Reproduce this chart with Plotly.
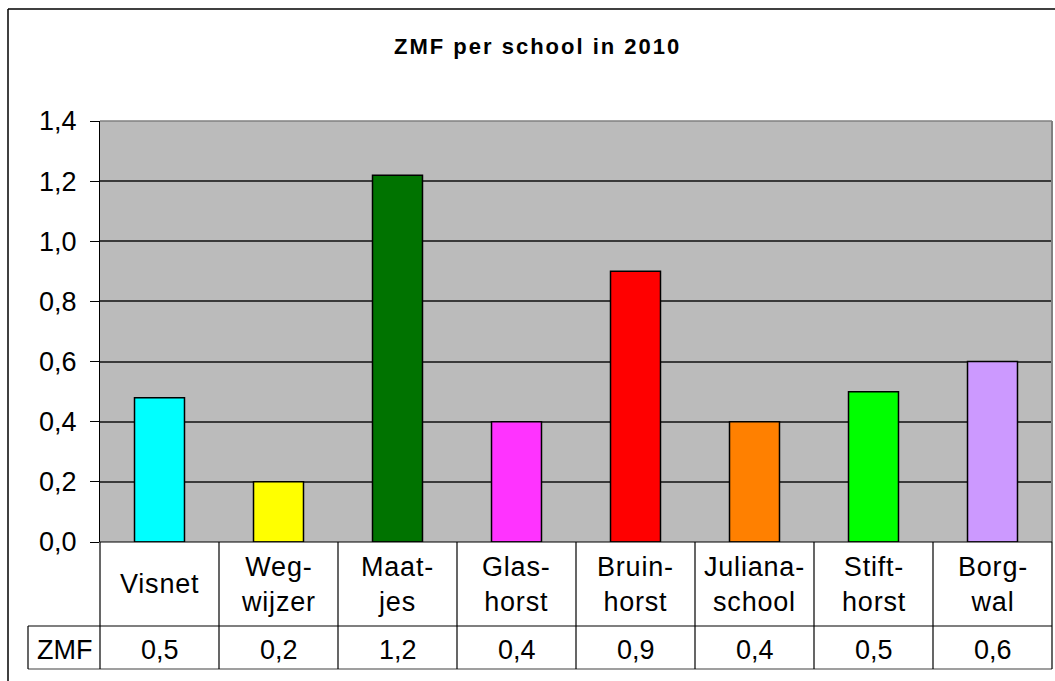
import plotly.graph_objects as go

# ---- data ----
schools = ["Visnet", "Weg-<br>wijzer", "Maat-<br>jes", "Glas-<br>horst", "Bruin-<br>horst",
           "Juliana-<br>school", "Stift-<br>horst", "Borg-<br>wal"]
zmf = [0.48, 0.20, 1.22, 0.40, 0.90, 0.40, 0.50, 0.60]
colors = ["#00FFFF", "#FFFF00", "#007300", "#FF33FF", "#FF0000", "#FF8000", "#00FF00", "#CC99FF"]
series_name = "ZMF"
title_text = "ZMF per school in 2010"
y_ticks = [0.0, 0.2, 0.4, 0.6, 0.8, 1.0, 1.2, 1.4]

W, H = 1055, 681
L, R, T, B = 100, 1052, 121, 542  # plot area in pixels
FONT = "Liberation Sans, Arial, sans-serif"
FS = 27


def xp(px):
    return (px - L) / (R - L)


def yp(py):
    return (B - py) / (B - T)


n = len(schools)
fig = go.Figure()
fig.add_trace(go.Bar(
    x=list(range(n)), y=zmf, marker=dict(color=colors, line=dict(color="black", width=1.5)),
    width=0.42, name=series_name, showlegend=False, hoverinfo="skip",
))

fig.update_layout(
    width=W, height=H,
    margin=dict(l=L, r=W - R, t=T, b=H - B, pad=0),
    paper_bgcolor="white", plot_bgcolor="#BBBBBB",
    separators=", ",
    font=dict(family=FONT, color="black", size=FS),
    xaxis=dict(range=[-0.5, n - 0.5], showticklabels=False, showgrid=False, zeroline=False,
               showline=False, ticks="", fixedrange=True),
    yaxis=dict(range=[0, 1.4], tickvals=y_ticks, tickformat=".1f", ticks="outside", ticklen=9,
               tickwidth=1, tickcolor="black", showline=True, linecolor="black", linewidth=1,
               showgrid=True, gridcolor="#3a3a3a", gridwidth=1.5, zeroline=False,
               tickfont=dict(size=FS, family=FONT), ticklabelstandoff=8),
)

shapes = []
line_k = dict(color="black", width=1.2)
# outer chart border (only top and left visible)
shapes.append(dict(type="line", xref="paper", yref="paper", x0=xp(8), x1=xp(1065), y0=yp(9), y1=yp(9),
                   line=dict(color="black", width=1.5)))
shapes.append(dict(type="line", xref="paper", yref="paper", x0=xp(8), x1=xp(8), y0=yp(9), y1=yp(690),
                   line=dict(color="black", width=1.5)))
# plot area top/right border (gray)
shapes.append(dict(type="line", xref="paper", yref="paper", x0=1, x1=1, y0=0, y1=1,
                   line=dict(color="#808080", width=2)))
shapes.append(dict(type="line", xref="paper", yref="paper", x0=0, x1=1, y0=1, y1=1,
                   line=dict(color="#808080", width=1.5)))
# table
shapes.append(dict(type="line", xref="paper", yref="paper", x0=0, x1=1, y0=0, y1=0, line=line_k))
shapes.append(dict(type="line", xref="paper", yref="paper", x0=xp(28), x1=1, y0=yp(626), y1=yp(626), line=line_k))
shapes.append(dict(type="line", xref="paper", yref="paper", x0=xp(28), x1=1, y0=yp(669), y1=yp(669),
                   line=dict(color="#404040", width=1.2)))
shapes.append(dict(type="line", xref="paper", yref="paper", x0=xp(28), x1=xp(28), y0=yp(626), y1=yp(669), line=line_k))
for k in range(n + 1):
    shapes.append(dict(type="line", xref="paper", yref="paper", x0=k / n, x1=k / n, y0=0, y1=yp(669), line=line_k))
fig.update_layout(shapes=shapes)

ann = []
ann.append(dict(text="<b><span style='letter-spacing:2px'>" + title_text + "</span></b>",
                xref="paper", yref="paper", x=xp(537), y=yp(46),
                xanchor="center", yanchor="middle", showarrow=False, font=dict(size=22, family=FONT)))
for i, (s, v) in enumerate(zip(schools, zmf)):
    ann.append(dict(text="<span style='letter-spacing:0.8px'>" + s.replace("<br>", "</span><br><span style='letter-spacing:0.8px'>") + "</span>",
                    xref="x", yref="paper", x=i, y=yp(584), xanchor="center", yanchor="middle",
                    showarrow=False, font=dict(size=FS, family=FONT)))
    ann.append(dict(text=f"{v:.1f}".replace(".", ","), xref="x", yref="paper", x=i, y=yp(650),
                    xanchor="center", yanchor="middle", showarrow=False, font=dict(size=FS, family=FONT)))
ann.append(dict(text=series_name, xref="paper", yref="paper", x=xp(64), y=yp(650), xanchor="center",
                yanchor="middle", showarrow=False, font=dict(size=FS, family=FONT)))
fig.update_layout(annotations=ann)

fig.write_html("out.html", config={"displayModeBar": False},
               post_script="document.body.style.margin='0';document.body.style.overflow='hidden';")
